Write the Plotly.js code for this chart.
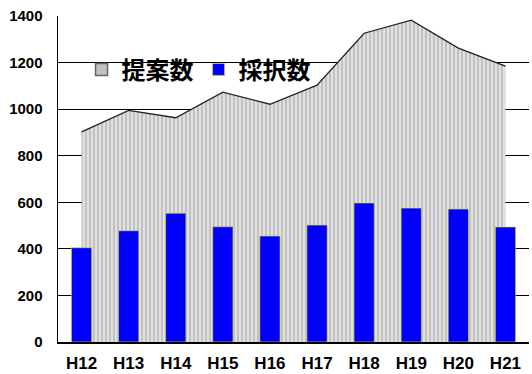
<!DOCTYPE html>
<html><head><meta charset="utf-8">
<script src="https://cdn.plot.ly/plotly-3.0.1.min.js"></script>
<style>body{margin:0;background:#fff}#c{width:532px;height:374px}</style>
</head><body><div id="c"></div>
<script>
const categories = ['H12','H13','H14','H15','H16','H17','H18','H19','H20','H21'];
const proposals = [902, 995, 963, 1073, 1021, 1103, 1326, 1382, 1262, 1185];
const adopted = [405, 478, 553, 495, 455, 502, 597, 575, 571, 494];
const yTicks = [0, 200, 400, 600, 800, 1000, 1200, 1400];
const gridTicks = [200, 400, 600, 800, 1000, 1200];
const names = ['提案数', '採択数'];

const tickFont = {family: 'Liberation Sans, Arial, sans-serif', size: 15, color: '#000', weight: 'bold'};

const traces = [
  {
    type: 'scatter', mode: 'lines', x: categories, y: proposals,
    fill: 'tozeroy', fillcolor: '#c4c4c4',
    fillpattern: {shape: '|', bgcolor: '#c2c2c2', fgcolor: '#eeeeee', size: 4, solidity: 0.35},
    line: {color: '#222', width: 1.3}, showlegend: false, hoverinfo: 'skip'
  },
  {
    type: 'bar', x: [categories[0]], y: [null], name: names[0], yaxis: 'y2',
    marker: {color: '#c0c0c0', line: {color: '#666', width: 1.5}}
  },
  {
    type: 'bar', x: categories, y: adopted, name: names[1], yaxis: 'y2', width: 0.43,
    marker: {color: '#0000ff', line: {color: '#e8e000', width: 0.6}}
  }
];

const layout = {
  width: 532, height: 374,
  margin: {l: 58, r: 3, t: 16, b: 32},
  paper_bgcolor: '#fff', plot_bgcolor: '#fff',
  barmode: 'overlay',
  showlegend: true,
  legend: {
    orientation: 'h', x: 0.05, y: 0.835, xanchor: 'left', yanchor: 'middle',
    bgcolor: 'rgba(0,0,0,0)', font: {family: 'Noto Sans CJK JP', size: 24, color: '#000', weight: 'bold'},
    itemwidth: 30, traceorder: 'normal'
  },
  xaxis: {
    type: 'category', tickvals: categories, ticktext: categories,
    showline: true, linecolor: '#000', linewidth: 1.5, ticks: '', showgrid: false,
    tickfont: {family: 'Liberation Sans, Arial, sans-serif', size: 17, color: '#000', weight: 'bold'},
    ticklabelstandoff: 5, zeroline: false, fixedrange: true
  },
  yaxis: {
    range: [0, 1400], tickvals: gridTicks, showticklabels: false, showgrid: true,
    gridcolor: '#000', gridwidth: 1.2, zeroline: false, showline: false, ticks: ''
  },
  yaxis2: {
    overlaying: 'y', side: 'left', range: [0, 1400], tickvals: yTicks, ticktext: yTicks.map(String),
    showgrid: false, zeroline: false, showline: true, linecolor: '#000', linewidth: 1.5,
    ticks: '', tickfont: tickFont, ticklabelstandoff: 11
  }
};

Plotly.newPlot('c', traces, layout, {staticPlot: true});
</script>
</body></html>
